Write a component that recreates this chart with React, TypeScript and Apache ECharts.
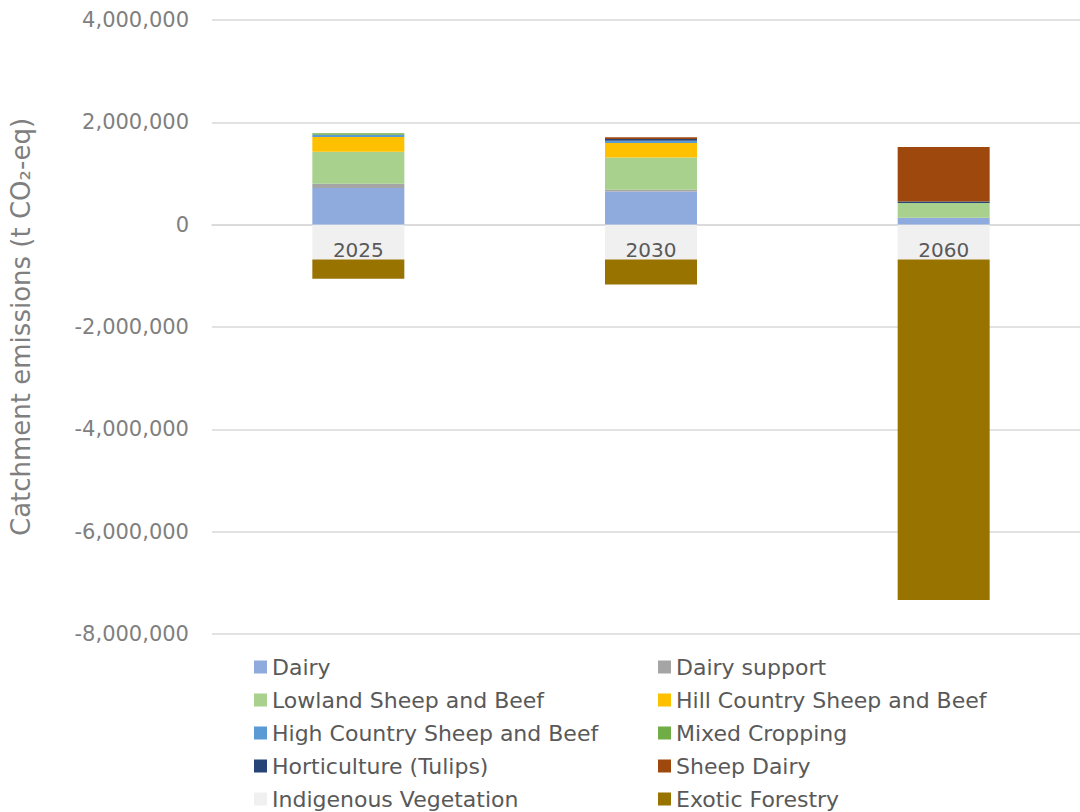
import React, { useEffect, useRef } from "react";
import * as echarts from "echarts";

const categories = ["2025", "2030", "2060"];
const dairy = [715000, 650000, 137000];
const dairySupport = [86000, 33000, 0];
const lowland = [625000, 632000, 287000];
const hillCountry = [285000, 280000, 0];
const highCountry = [47000, 46000, 0];
const mixedCropping = [30000, 0, 0];
const horticulture = [0, 33000, 30000];
const sheepDairy = [0, 33000, 1062000];
const indigenous = [-680000, -680000, -680000];
const exoticForestry = [-377000, -490000, -6654000];
const yTicks = { min: -8000000, max: 4000000, interval: 2000000 };

const seriesDefs = [
  { name: "Dairy", data: dairy, color: "#8faadc" },
  { name: "Dairy support", data: dairySupport, color: "#a5a5a5" },
  { name: "Lowland Sheep and Beef", data: lowland, color: "#a9d18e" },
  { name: "Hill Country Sheep and Beef", data: hillCountry, color: "#ffc000" },
  { name: "High Country Sheep and Beef", data: highCountry, color: "#5b9bd5" },
  { name: "Mixed Cropping", data: mixedCropping, color: "#70ad47" },
  { name: "Horticulture (Tulips)", data: horticulture, color: "#264478" },
  { name: "Sheep Dairy", data: sheepDairy, color: "#9e480e" },
  { name: "Indigenous Vegetation", data: indigenous, color: "#f0f0f0" },
  { name: "Exotic Forestry", data: exoticForestry, color: "#997300" },
];

const leftLegend = [
  "Dairy",
  "Lowland Sheep and Beef",
  "High Country Sheep and Beef",
  "Horticulture (Tulips)",
  "Indigenous Vegetation",
];
const rightLegend = [
  "Dairy support",
  "Hill Country Sheep and Beef",
  "Mixed Cropping",
  "Sheep Dairy",
  "Exotic Forestry",
];

const FONT = "DejaVu Sans";

export default function App() {
  const ref = useRef<HTMLDivElement>(null);
  useEffect(() => {
    if (!ref.current) return;
    const chart = echarts.init(ref.current, null, { renderer: "svg" });
    const legendCommon = {
      orient: "vertical",
      top: 656,
      height: 156,
      padding: 0,
      itemWidth: 13,
      itemHeight: 13,
      itemGap: 11,
      icon: "rect",
      textStyle: {
        fontFamily: FONT,
        fontSize: 22,
        color: "#595959",
        lineHeight: 22,
      },
    };
    chart.setOption({
      animation: false,
      grid: { left: 211, right: 0, top: 20, bottom: 178, containLabel: false },
      legend: [
        { ...legendCommon, left: 254, data: leftLegend },
        { ...legendCommon, left: 658, data: rightLegend },
      ],
      xAxis: {
        type: "category",
        data: categories,
        axisLine: { show: true, onZero: true, lineStyle: { color: "#d9d9d9", width: 1.5 } },
        axisTick: { show: false },
        axisLabel: { show: false },
      },
      yAxis: {
        type: "value",
        min: yTicks.min,
        max: yTicks.max,
        interval: yTicks.interval,
        name: "Catchment emissions (t CO\u2082-eq)",
        nameLocation: "middle",
        nameGap: 178,
        nameTextStyle: { fontFamily: FONT, fontSize: 26, color: "#7f7f7f" },
        axisLine: { show: false },
        axisTick: { show: false },
        axisLabel: {
          margin: 23,
          fontFamily: FONT,
          fontSize: 21,
          color: "#7f7f7f",
          formatter: (v: number) => v.toLocaleString("en-US"),
        },
        splitLine: { lineStyle: { color: "#d9d9d9", width: 1.5 } },
      },
      series: seriesDefs.map((s) => ({
        name: s.name,
        type: "bar",
        stack: "total",
        data: s.data,
        barWidth: 92,
        itemStyle: { color: s.color },
        label:
          s.name === "Indigenous Vegetation"
            ? {
                show: true,
                position: "insideTop",
                distance: 15,
                fontFamily: FONT,
                fontSize: 20,
                color: "#595959",
                formatter: (p: any) => p.name,
              }
            : { show: false },
      })),
    });
    return () => chart.dispose();
  }, []);
  return (
    <div style={{ position: "fixed", left: 0, top: 0, width: 1080, height: 812, overflow: "hidden", background: "#fff" }}>
      <div ref={ref} style={{ width: 1090, height: 812 }} />
    </div>
  );
}
